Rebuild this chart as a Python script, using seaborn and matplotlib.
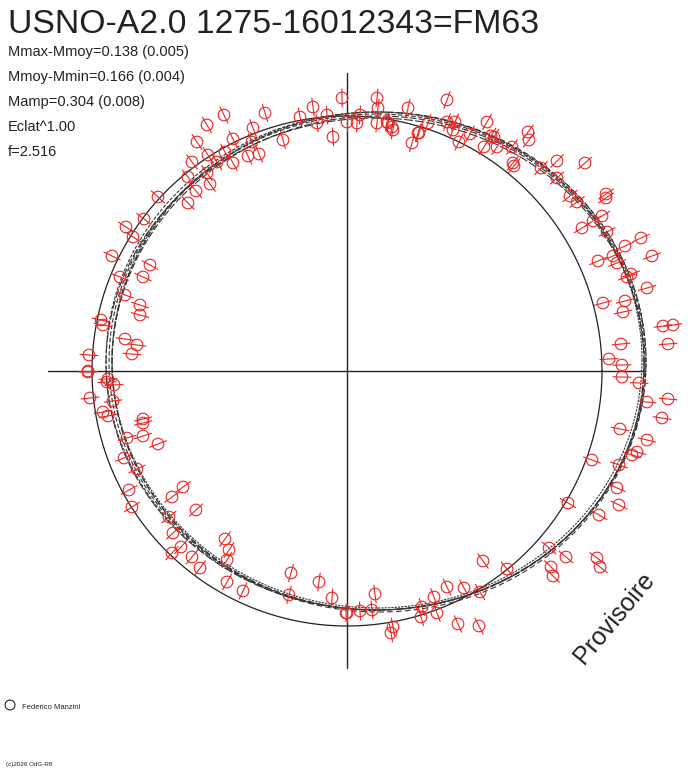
import numpy as np
import pandas as pd
import matplotlib
matplotlib.use("Agg")
import matplotlib.pyplot as plt
import seaborn as sns

# observation positions (x right, y up, origin at the axes crossing)
obs_x = [-5, -34, -82, -123, -140, -47, -20, -30, 0, 10, -14, -64, -94, -114, -95, -150, -139, -122,
         -130, -114, -99, -88, -155, -159, -140, -137, -151, -159, -189, -203, -221, -214, -235, -197,
         -204, -227, -222, -207, -207, -246, -244, -222, -210, -215, -258, -259, -239,
         100, 30, 61, 31, 13, 40, 30, 41, 45, 46, 71, 72, 65, 81, 100, 108, 106, 112, 123, 137, 140,
         147, 144, 165, 181, 182, 150, 167, 194, 210, 238, 166, 259, 210, 223, 259, 230, 255, 246, 260,
         294, 235, 278, 266, 305, 251, 270, 280, 284, 300, 256, 278, 276, 316, 326, 274, 321, 262, 275,
         -259, -240, -233, -234, -257, -244, -239, -204, -204, -204, -220, -189, -223, -210, -218, -164,
         -175, -215, -151, -178, -174, -122, -118, -166, -175, -155, -120, -147, -120, -104, -56, -28,
         -58, -15, -1,
         275, 292, 321, 300, 315, 273, 300, 290, 285, 245, 272, 270, 272, 221, 252, 202, 219, 250, 253,
         204, 206, 136, 160, 100, 117, 87, 133, 28, 75, 90, 74, 0, 13, 25, 46, 44, 111, 132]
obs_y = [273, 264, 258, 256, 246, 254, 256, 248, 249, 248, 234, 231, 243, 232, 229, 229, 216, 219,
         209, 208, 215, 217, 209, 194, 198, 187, 180, 168, 174, 152, 144, 134, 115, 106, 94, 94, 76, 66,
         56, 51, 46, 32, 26, 17, 16, 0, -8,
         271, 273, 263, 263, 256, 249, 248, 248, 244, 241, 238, 238, 228, 248, 249, 249, 241, 229, 237,
         224, 249, 234, 235, 224, 239, 231, 224, 205, 203, 210, 208, 208, 177, 193, 175, 173, 169, 155,
         150, 139, 133, 143, 125, 115, 115, 110, 108, 94, 97, 83, 68, 70, 59, 45, 46, 27, 27, 12, 6,
         -1, -11, -14, -30, -27, -41, -45, -48, -52, -65, -67, -73, -87, -98, -119, -116, -126, -136,
         -139, -146, -162, -168, -179, -176, -182, -186, -189, -197, -211, -220, -202, -211, -224, -227,
         -242,
         -6, -12, -28, -31, -47, -58, -69, -81, -84, -89, -94, -117, -134, -132, -144, -177, -186, -187,
         -196, -196, -205, -190, -198, -216, -217, -226, -221, -223, -236, -242, -246, -242, -240, -239,
         -256, -262, -253, -255]

# fitted light-curve traces: centre offset and semi-axes of each run
fit_cx = [30, 31, 29, 32, 28, 30]
fit_cy = [9, 8, 10, 9, 7, 11]
fit_a = [268, 266, 270, 267, 269, 265]
fit_b = [248, 247, 249, 250, 246, 248]
ref_radius = 255

title = "USNO-A2.0 1275-16012343=FM63"
info_lines = ["Mmax-Mmoy=0.138 (0.005)", "Mmoy-Mmin=0.166 (0.004)", "Mamp=0.304 (0.008)",
              "Eclat^1.00", "f=2.516"]

sns.set_style("white")
plt.rcParams["font.family"] = ["Liberation Sans", "DejaVu Sans"]

fig = plt.figure(figsize=(6.88, 7.68), dpi=100)
ax = fig.add_axes([0, 0, 1, 1])
ax.set_xlim(-347, 341)
ax.set_ylim(-397, 371)
ax.axis("off")

# axes cross
ax.plot([-299, 298], [0, 0], color="#222222", lw=1)
ax.plot([0, 0], [298, -297], color="#222222", lw=1)

# reference circle
t = np.linspace(0, 2 * np.pi, 400)
circ = pd.DataFrame({"x": ref_radius * np.cos(t), "y": ref_radius * np.sin(t)})
sns.lineplot(data=circ, x="x", y="y", sort=False, estimator=None, color="#222222", lw=0.9, ax=ax)

# fitted traces
dash_styles = [(4, 2), (6, 2), (3, 1.5), (5, 3), (8, 2), (2, 1)]
for i in range(len(fit_a)):
    fit = pd.DataFrame({"x": fit_cx[i] + fit_a[i] * np.cos(t), "y": fit_cy[i] + fit_b[i] * np.sin(t)})
    sns.lineplot(data=fit, x="x", y="y", sort=False, estimator=None, color="#333333",
                 lw=0.8, dashes=False, ax=ax).lines[-1].set_dashes(dash_styles[i])

# radial error bars through each observation
ox = np.array(obs_x, float)
oy = np.array(obs_y, float)
ang = np.arctan2(oy, ox)
half = 9
for x, y, a in zip(ox, oy, ang):
    ax.plot([x - half * np.cos(a), x + half * np.cos(a)],
            [y - half * np.sin(a), y + half * np.sin(a)], color="#ee2222", lw=0.8)

obs = pd.DataFrame({"x": ox, "y": oy})
sns.scatterplot(data=obs, x="x", y="y", marker="o", s=70, facecolor="none",
                edgecolor="#ee2222", linewidth=0.8, ax=ax, zorder=5)

ax.set_xlabel("")
ax.set_ylabel("")

fig.text(8 / 688, 1 - 33 / 768, title, fontsize=24.3, color="#222222")
for i, line in enumerate(info_lines):
    fig.text(8 / 688, 1 - (56 + 25 * i) / 768, line, fontsize=10.5, color="#222222")

fig.text(614 / 688, 1 - 618 / 768, "Provisoire", fontsize=18, color="#222222",
         rotation=50, ha="center", va="center")

ax.scatter([-337], [-334], s=50, facecolor="none", edgecolor="#222222", linewidth=0.8)
fig.text(22 / 688, 1 - 709 / 768, "Federico Manzini", fontsize=5.5, color="#222222")
fig.text(6 / 688, 1 - 766 / 768, "(c)2026 OdG-R8", fontsize=4.5, color="#222222")

fig.savefig("out.png", dpi=100)
